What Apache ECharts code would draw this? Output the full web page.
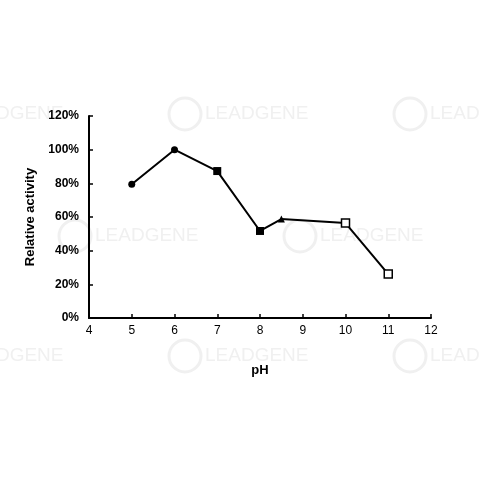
<!DOCTYPE html>
<html><head><meta charset="utf-8">
<script src="https://cdn.jsdelivr.net/npm/echarts@6/dist/echarts.min.js"></script>
<style>html,body{margin:0;padding:0;background:#fff}#c{width:480px;height:480px}</style>
</head><body><div id="c"></div>
<script>
const pH = [5, 6, 7, 8, 8.5, 10, 11];
const activity = [79.5, 100, 87.3, 51.7, 58.8, 56.4, 26.1];
const symbols = ['circle', 'circle', 'rect', 'rect', 'triangle', 'rect', 'rect'];
const hollow = [false, false, false, false, false, true, true];
const xTicks = [4, 5, 6, 7, 8, 9, 10, 11, 12];
const yTicks = [0, 20, 40, 60, 80, 100, 120];

const chart = echarts.init(document.getElementById('c'));
const pts = pH.map((x, i) => ({
  value: [x, activity[i]],
  symbol: symbols[i],
  symbolSize: symbols[i] === 'circle' ? 7 : (symbols[i] === 'triangle' ? 7 : 8),
  itemStyle: hollow[i] ? {color: '#fff', borderColor: '#000', borderWidth: 1.5} : {color: '#000', borderWidth: 0}
}));

const wm = [];
const wmPos = [[-40,104],[205,104],[430,104],[95,226],[320,226],[-40,346],[205,346],[430,346]];
wmPos.forEach(p => {
  wm.push({type:'circle', shape:{cx:p[0]-20, cy:p[1]+10, r:16}, style:{fill:'none', stroke:'#f0f0f0', lineWidth:3}, z:-1});
  wm.push({type:'text', left:p[0], top:p[1], style:{text:'LEADGENE', fill:'#f0f0f0', font:'19px Arial'}, z:-1});
});

chart.setOption({
  animation: false,
  backgroundColor: '#fff',
  graphic: wm,
  grid: {left: 89, right: 49, top: 116, bottom: 162},
  xAxis: {
    type: 'value', min: 4, max: 12, interval: 1,
    name: 'pH', nameLocation: 'middle', nameGap: 46,
    nameTextStyle: {fontFamily: 'Arial', fontWeight: 'bold', fontSize: 13, color: '#000'},
    axisLine: {onZero: false, lineStyle: {color: '#000', width: 2}},
    axisTick: {inside: true, length: 4, lineStyle: {color: '#000', width: 1.5}},
    axisLabel: {fontFamily: 'Arial', fontSize: 12, color: '#000', margin: 7},
    splitLine: {show: false}
  },
  yAxis: {
    type: 'value', min: 0, max: 120, interval: 20,
    name: 'Relative activity', nameLocation: 'middle', nameGap: 52, nameRotate: 90,
    nameTextStyle: {fontFamily: 'Arial', fontWeight: 'bold', fontSize: 13, color: '#000'},
    axisLine: {show: true, lineStyle: {color: '#000', width: 2}},
    axisTick: {show: true, inside: true, length: 4, lineStyle: {color: '#000', width: 1.5}},
    axisLabel: {fontFamily: 'Arial', fontWeight: 'bold', fontSize: 12, color: '#000', margin: 10, formatter: '{value}%'},
    splitLine: {show: false}
  },
  series: [{
    type: 'line',
    data: pts,
    lineStyle: {color: '#000', width: 2},
    z: 3
  }]
});
</script></body></html>
